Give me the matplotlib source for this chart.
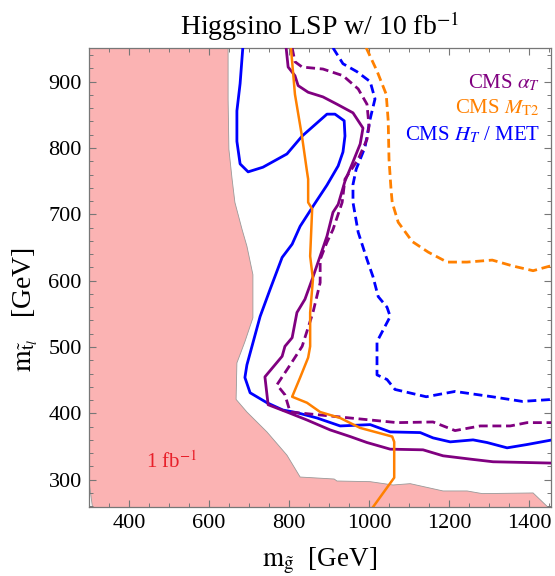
import matplotlib
matplotlib.use("Agg")
import matplotlib.pyplot as plt
from matplotlib.ticker import MultipleLocator

plt.rcParams['font.family'] = ['Liberation Serif', 'DejaVu Serif']
plt.rcParams['mathtext.fontset'] = 'stix'

# 1 fb^-1 excluded region (boundary)
excl_x = [300, 648, 648, 650, 658, 665, 683, 695, 710, 710, 690, 670, 668, 695, 720, 745, 795, 828,
          913, 920, 1003, 1060, 1103, 1185, 1245, 1283, 1410, 1462, 1462, 311, 300]
excl_y = [960, 960, 874, 798, 753, 718, 677, 652, 609, 544, 508, 476, 421, 402, 387, 372, 337, 304,
          301, 298, 297, 292, 294, 283, 283, 279, 280, 250, 250, 250, 300]

# CMS alpha_T (solid = purple, dashed = purple)
aT_x = [793, 798, 815, 823, 848, 885, 920, 960, 985, 978, 958, 940, 923, 910, 895, 878, 858, 840, 820,
        808, 790, 783, 740, 748, 795, 845, 903, 953, 995, 1053, 1135, 1185, 1253, 1310, 1458]
aT_y = [951, 922, 909, 894, 884, 877, 866, 853, 830, 806, 776, 750, 715, 703, 667, 637, 602, 572, 552,
        514, 501, 486, 455, 413, 402, 390, 375, 365, 356, 346, 345, 336, 331, 327, 325]
aT_d_x = [808, 815, 833, 885, 935, 973, 995, 1000, 995, 973, 940, 933, 910, 895, 878, 878, 860, 833,
          803, 770, 790, 803, 870, 953, 1020, 1070, 1160, 1215, 1278, 1353, 1395, 1458]
aT_d_y = [951, 930, 922, 919, 909, 889, 866, 833, 813, 783, 753, 718, 677, 658, 632, 597, 552, 501,
          473, 443, 428, 402, 398, 393, 389, 386, 387, 374, 381, 381, 386, 386]

# CMS MT2 (orange)
mt2_x = [805, 815, 833, 845, 848, 848, 858, 853, 860, 853, 853, 848, 828, 808, 845, 878, 928, 978,
         1058, 1063, 1063, 1045, 1008]
mt2_y = [951, 881, 816, 765, 753, 718, 708, 637, 602, 552, 501, 484, 454, 425, 416, 402, 393, 378,
         365, 357, 303, 288, 257]
mt2_d_x = [993, 1020, 1043, 1048, 1050, 1055, 1058, 1073, 1108, 1148, 1195, 1245, 1308, 1360, 1410, 1458]
mt2_d_y = [951, 916, 881, 841, 783, 738, 718, 688, 659, 643, 628, 628, 631, 622, 615, 623]

# CMS HT / MET (blue)
ht_x = [685, 678, 670, 670, 678, 698, 735, 795, 833, 895, 915, 938, 940, 935, 923, 895, 860, 828, 808,
        783, 753, 728, 695, 690, 703, 745, 785, 820, 870, 928, 1003, 1053, 1128, 1160, 1203, 1260,
        1295, 1345, 1395, 1458]
ht_y = [953, 897, 856, 810, 776, 764, 771, 791, 818, 851, 851, 841, 818, 794, 773, 744, 712, 682, 655,
        635, 587, 546, 473, 454, 431, 416, 405, 401, 393, 381, 383, 372, 371, 363, 357, 360, 356, 348,
        353, 360]
ht_d_x = [910, 935, 970, 1003, 1015, 1003, 990, 968, 960, 960, 973, 995, 1010, 1023, 1045, 1053, 1020,
          1020, 1045, 1065, 1143, 1215, 1308, 1383, 1458]
ht_d_y = [951, 927, 915, 900, 874, 844, 801, 768, 745, 718, 673, 632, 606, 576, 560, 546, 508, 458,
          451, 436, 425, 433, 425, 418, 421]

purple = '#800080'
orange = '#FF8000'
blue = '#0000FF'
dash = (0, (3.2, 1.7))

fig = plt.figure(figsize=(5.55, 5.76), dpi=100)
ax = fig.add_axes([0.160, 0.120, 0.833, 0.797])

ax.fill(excl_x, excl_y, facecolor='#FBB3B3', edgecolor='#999999', linewidth=0.6, zorder=1)

ax.plot(ht_x, ht_y, color=blue, lw=2.0, zorder=3)
ax.plot(ht_d_x, ht_d_y, color=blue, lw=2.0, linestyle=dash, zorder=3)
ax.plot(aT_x, aT_y, color=purple, lw=2.0, zorder=3)
ax.plot(aT_d_x, aT_d_y, color=purple, lw=2.0, linestyle=dash, zorder=3)
ax.plot(mt2_x, mt2_y, color=orange, lw=1.8, zorder=4)
ax.plot(mt2_d_x, mt2_d_y, color=orange, lw=2.0, linestyle=dash, zorder=3)

ax.set_xlim(300, 1455)
ax.set_ylim(259, 951)

ax.xaxis.set_major_locator(MultipleLocator(200))
ax.xaxis.set_minor_locator(MultipleLocator(50))
ax.yaxis.set_major_locator(MultipleLocator(100))
ax.yaxis.set_minor_locator(MultipleLocator(20))
ax.set_xticks([400, 600, 800, 1000, 1200, 1400])
ax.tick_params(which='both', direction='in', top=True, right=True, color='#777777',
               labelsize=16, pad=5)
ax.tick_params(which='major', length=5, width=0.8)
ax.tick_params(which='minor', length=3, width=0.7)
for s in ax.spines.values():
    s.set_color('#777777')
    s.set_linewidth(0.9)

ax.set_title(r'Higgsino LSP w/ 10 fb$^{-1}$', fontsize=20, pad=9)
ax.set_xlabel(r'$\mathrm{m}_{\tilde{\mathrm{g}}}$  [GeV]', fontsize=19.5, labelpad=9)
ax.set_ylabel(r'$\mathrm{m}_{\tilde{\mathrm{t}}_l}$   [GeV]', fontsize=20)
ax.yaxis.set_label_coords(-0.105, 0.43)

ax.text(0.976, 0.924, r'CMS $\alpha_T$', color=purple, fontsize=15, ha='right', va='center',
        transform=ax.transAxes)
ax.text(0.976, 0.869, r'CMS $M_{\mathrm{T2}}$', color=orange, fontsize=15, ha='right', va='center',
        transform=ax.transAxes)
ax.text(0.976, 0.810, r'CMS $H_T$ / MET', color=blue, fontsize=15, ha='right', va='center',
        transform=ax.transAxes)
ax.text(507, 326, r'1 fb$^{-1}$', color='#E8202A', fontsize=15, ha='center', va='center')

fig.savefig('out.png', dpi=100)
